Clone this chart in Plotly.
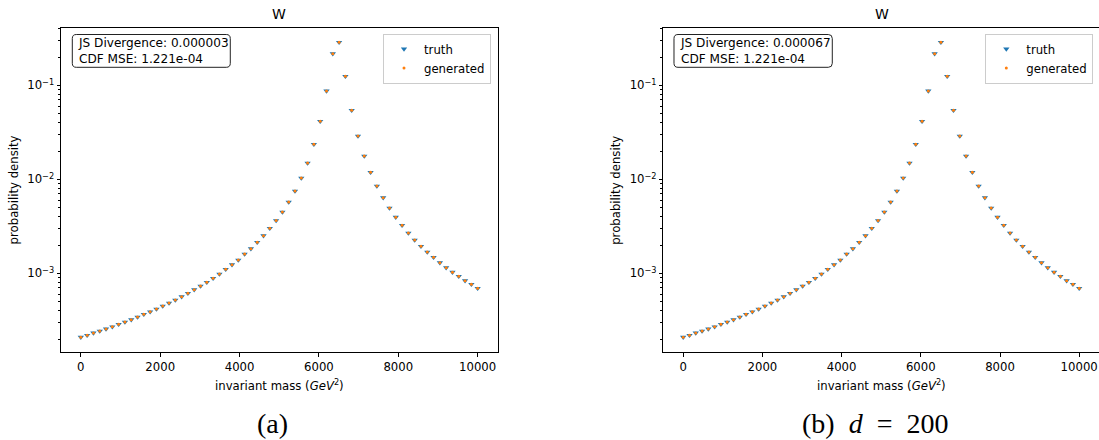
import plotly.graph_objects as go

# ---------------- data ----------------
mass = [0, 158.7, 317.5, 476.2, 634.9, 793.7, 952.4, 1111.1, 1269.8, 1428.6,
        1587.3, 1746.0, 1904.8, 2063.5, 2222.2, 2381.0, 2539.7, 2698.4, 2857.1, 3015.9,
        3174.6, 3333.3, 3492.1, 3650.8, 3809.5, 3968.3, 4127.0, 4285.7, 4444.4, 4603.2,
        4761.9, 4920.6, 5079.4, 5238.1, 5396.8, 5555.6, 5714.3, 5873.0, 6031.7, 6190.5,
        6349.2, 6507.9, 6666.7, 6825.4, 6984.1, 7142.9, 7301.6, 7460.3, 7619.0, 7777.8,
        7936.5, 8095.2, 8254.0, 8412.7, 8571.4, 8730.2, 8888.9, 9047.6, 9206.3, 9365.1,
        9523.8, 9682.5, 9841.3, 10000]

truth_a = [2.09e-4, 2.19e-4, 2.32e-4, 2.43e-4, 2.56e-4, 2.70e-4, 2.87e-4, 3.03e-4, 3.21e-4, 3.43e-4,
           3.66e-4, 3.90e-4, 4.17e-4, 4.49e-4, 4.83e-4, 5.20e-4, 5.64e-4, 6.13e-4, 6.69e-4, 7.33e-4,
           8.02e-4, 8.85e-4, 9.83e-4, 1.103e-3, 1.234e-3, 1.385e-3, 1.604e-3, 1.826e-3, 2.137e-3, 2.512e-3,
           3.011e-3, 3.645e-3, 4.488e-3, 5.735e-3, 7.507e-3, 1.032e-2, 1.491e-2, 2.357e-2, 4.140e-2, 0.0870,
           0.2169, 0.2867, 0.1247, 0.0542, 0.02888, 0.0177, 0.01187, 8.484e-3, 6.371e-3, 4.951e-3,
           3.952e-3, 3.240e-3, 2.683e-3, 2.261e-3, 1.937e-3, 1.684e-3, 1.480e-3, 1.297e-3, 1.147e-3, 1.027e-3,
           9.29e-4, 8.34e-4, 7.64e-4, 6.93e-4]
generated_a = [2.09e-4, 2.19e-4, 2.32e-4, 2.43e-4, 2.56e-4, 2.70e-4, 2.87e-4, 3.03e-4, 3.21e-4, 3.43e-4,
               3.66e-4, 3.90e-4, 4.17e-4, 4.49e-4, 4.83e-4, 5.20e-4, 5.64e-4, 6.13e-4, 6.69e-4, 7.33e-4,
               8.02e-4, 8.85e-4, 9.83e-4, 1.103e-3, 1.234e-3, 1.385e-3, 1.604e-3, 1.826e-3, 2.137e-3, 2.512e-3,
               3.011e-3, 3.645e-3, 4.488e-3, 5.735e-3, 7.507e-3, 1.032e-2, 1.491e-2, 2.357e-2, 4.140e-2, 0.0870,
               0.2169, 0.2867, 0.1247, 0.0542, 0.02888, 0.0177, 0.01187, 8.484e-3, 6.371e-3, 4.951e-3,
               3.952e-3, 3.240e-3, 2.683e-3, 2.261e-3, 1.937e-3, 1.684e-3, 1.480e-3, 1.297e-3, 1.147e-3, 1.027e-3,
               9.29e-4, 8.34e-4, 7.64e-4, 6.93e-4]
truth_b = list(truth_a)
generated_b = list(generated_a)

x_ticks = [0, 2000, 4000, 6000, 8000, 10000]
x_ticktext = ["0", "2000", "4000", "6000", "8000", "10000"]
y_ticks = [1e-3, 1e-2, 1e-1]
y_ticktext = ["10<sup>−3</sup>", "10<sup>−2</sup>", "10<sup>−1</sup>"]
y_minor = [m * 10.0 ** e for e in (-4, -3, -2, -1) for m in range(2, 10)]

title_text = "W"
stats_a = "JS Divergence: 0.000003<br>CDF MSE: 1.221e-04"
stats_b = "JS Divergence: 0.000067<br>CDF MSE: 1.221e-04"
caption_a = "(a)"
caption_b = "(b)\u00a0\u00a0<i>d</i>\u00a0\u00a0=\u00a0\u00a0200"

# ---------------- layout helpers ----------------
W, H = 1099, 440
FONT = "DejaVu Sans"
FS = 11.7
BLUE, ORANGE = "#1f77b4", "#ff7f0e"


def px(xp):
    return xp / W


def py(yp):
    return 1 - yp / H


def rounded_box(x0, y0, x1, y1, r):
    pts = [("M", x0 + r, y0), ("L", x1 - r, y0), ("Q", x1, y0, x1, y0 + r), ("L", x1, y1 - r),
           ("Q", x1, y1, x1 - r, y1), ("L", x0 + r, y1), ("Q", x0, y1, x0, y1 - r),
           ("L", x0, y0 + r), ("Q", x0, y0, x0 + r, y0)]
    out = []
    for seg in pts:
        cmd, coords = seg[0], seg[1:]
        pairs = []
        for i in range(0, len(coords), 2):
            pairs.append(f"{px(coords[i]):.5f},{py(coords[i + 1]):.5f}")
        out.append(cmd + " " + " ".join(pairs))
    return " ".join(out) + " Z"


panels = [
    dict(l=61.0, r=497.5, truth=truth_a, gen=generated_a, stats=stats_a, cap=caption_a, capx=272.5,
         leg="legend", legr=491.0, box=(72.3, 230.3)),
    dict(l=663.4, r=1100.0, truth=truth_b, gen=generated_b, stats=stats_b, cap=caption_b, capx=875.0,
         leg="legend2", legr=1093.3, box=(674.0, 832.3)),
]
top, bottom = 27.5, 352.3
yrange = [-3.840, -0.385]

fig = go.Figure()
annotations = []
shapes = []
layout = {}
for k, p in enumerate(panels):
    sfx = "" if k == 0 else "2"
    fig.add_trace(go.Scatter(x=mass, y=p["truth"], mode="markers", name="truth",
                             marker=dict(symbol="triangle-down", size=5.5, color=BLUE, line=dict(width=0)),
                             xaxis="x" + sfx, yaxis="y" + sfx, legend=p["leg"]))
    fig.add_trace(go.Scatter(x=mass, y=p["gen"], mode="markers", name="generated",
                             marker=dict(symbol="circle", size=3, color=ORANGE, line=dict(width=0)),
                             xaxis="x" + sfx, yaxis="y" + sfx, legend=p["leg"]))
    common = dict(showline=True, linecolor="black", linewidth=1, mirror=True,
                  ticks="outside", ticklen=3.5, tickwidth=1, tickcolor="black",
                  showgrid=False, zeroline=False,
                  tickfont=dict(family=FONT, size=FS, color="black"))
    layout["xaxis" + sfx] = dict(common, domain=[px(p["l"]), min(1.0, px(p["r"]))],
                                 range=[-500, 10500], tickvals=x_ticks, ticktext=x_ticktext,
                                 anchor="y" + sfx)
    layout["yaxis" + sfx] = dict(common, domain=[py(bottom), py(top)], type="log",
                                 range=yrange, tickvals=y_ticks, ticktext=y_ticktext,
                                 minor=dict(tickvals=y_minor, ticks="outside", ticklen=2,
                                            tickwidth=0.8, tickcolor="black"),
                                 anchor="x" + sfx)
    layout[p["leg"]] = dict(x=px(p["legr"]), xanchor="right", y=py(33.5), yanchor="top",
                            bgcolor="rgba(255,255,255,0.8)", bordercolor="#cccccc", borderwidth=1,
                            font=dict(family=FONT, size=FS, color="black"),
                            tracegroupgap=0, itemwidth=30)
    cx = (p["l"] + p["r"]) / 2
    annotations.append(dict(text=title_text, x=px(cx), y=py(14), xref="paper", yref="paper",
                            xanchor="center", yanchor="middle", showarrow=False,
                            font=dict(family=FONT, size=14, color="black")))
    annotations.append(dict(text="invariant mass (<i>GeV</i><sup>2</sup>)", x=px(cx), y=py(385),
                            xref="paper", yref="paper", xanchor="center", yanchor="middle",
                            showarrow=False, font=dict(family=FONT, size=FS, color="black")))
    annotations.append(dict(text="probability density", x=px(p["l"] - 47.5), y=py((top + bottom) / 2),
                            xref="paper", yref="paper", xanchor="center", yanchor="middle",
                            textangle=-90, showarrow=False,
                            font=dict(family=FONT, size=FS, color="black")))
    bx0, bx1 = p["box"]
    by0, by1 = 34.5, 67.3
    shapes.append(dict(type="path", path=rounded_box(bx0, by0, bx1, by1, 4), xref="paper", yref="paper",
                       line=dict(color="#222222", width=1), fillcolor="white", layer="above"))
    annotations.append(dict(text=p["stats"], x=px(bx0 + 3.5), y=py((by0 + by1) / 2), xref="paper",
                            yref="paper", xanchor="left", yanchor="middle", align="left",
                            showarrow=False, font=dict(family=FONT, size=12.1, color="black")))
    annotations.append(dict(text=p["cap"], x=px(p["capx"]), y=py(423), xref="paper", yref="paper",
                            xanchor="center", yanchor="middle", showarrow=False,
                            font=dict(family="Liberation Serif", size=28, color="black")))

fig.update_layout(width=W, height=H, margin=dict(l=0, r=0, t=0, b=0),
                  paper_bgcolor="white", plot_bgcolor="white", showlegend=True,
                  annotations=annotations, shapes=shapes, **layout)
fig.write_html("out.html", config={"displayModeBar": False},
               post_script="document.body.style.margin='0px';document.body.style.overflow='hidden';")
